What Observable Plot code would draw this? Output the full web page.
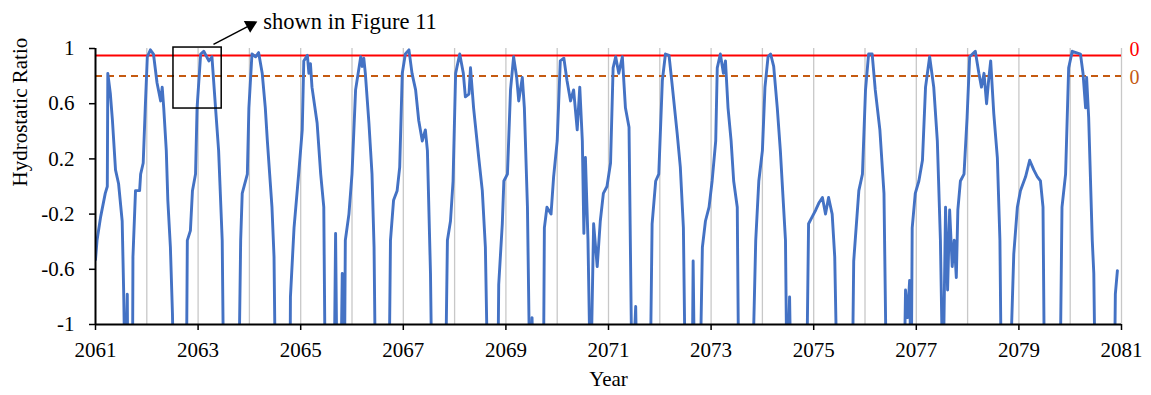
<!DOCTYPE html>
<html>
<head>
<meta charset="utf-8">
<script src="https://cdn.jsdelivr.net/npm/d3@7"></script>
<script src="https://cdn.jsdelivr.net/npm/@observablehq/plot@0.6"></script>
<style>
  html, body { margin: 0; padding: 0; background: #fff; }
  #chart { width: 1151px; height: 395px; }
  #chart svg text { font-family: 'Liberation Serif', 'Times New Roman', serif; }
</style>
</head>
<body>
<div id="chart"></div>
<script>
// ---- data (decimal year, hydrostatic ratio); values below -1 run off the axis ----
const years = [
2061.00,2061.03,2061.10,2061.19,2061.23,2061.24,2061.29,2061.33,2061.39,2061.45,2061.52,2061.55,2061.58,2061.62,2061.63,2061.72,2061.73,2061.78,2061.86,2061.88,2061.93,2061.97,
2062.01,2062.07,2062.13,2062.20,2062.27,2062.30,2062.33,2062.38,2062.41,2062.46,2062.50,2062.53,2062.77,2062.79,2062.85,2062.89,2062.95,2062.98,
2063.05,2063.11,2063.21,2063.27,2063.34,2063.40,2063.47,2063.50,2063.79,2063.83,2063.86,2063.96,2063.99,
2064.05,2064.12,2064.18,2064.25,2064.31,2064.35,2064.44,2064.48,2064.51,2064.79,2064.80,2064.87,2064.96,
2065.03,2065.06,2065.13,2065.16,2065.19,2065.22,2065.32,2065.39,2065.45,2065.48,2065.65,2065.68,2065.71,2065.78,2065.81,2065.83,2065.85,2065.87,2065.94,
2066.00,2066.07,2066.17,2066.20,2066.23,2066.26,2066.33,2066.39,2066.43,2066.46,2066.72,2066.75,2066.81,2066.88,2066.93,2066.98,
2067.04,2067.11,2067.17,2067.24,2067.30,2067.37,2067.43,2067.47,2067.53,2067.56,2067.82,2067.86,2067.92,2067.97,
2068.02,2068.10,2068.17,2068.21,2068.28,2068.31,2068.37,2068.47,2068.54,2068.60,2068.65,2068.84,2068.86,2068.93,2068.96,
2069.03,2069.09,2069.15,2069.21,2069.25,2069.32,2069.36,2069.42,2069.47,2069.51,2069.54,2069.73,2069.75,2069.80,2069.88,2069.93,
2070.00,2070.06,2070.13,2070.19,2070.26,2070.32,2070.39,2070.44,2070.49,2070.52,2070.55,2070.60,2070.65,2070.71,2070.78,2070.84,2070.90,2070.97,
2071.04,2071.09,2071.14,2071.20,2071.27,2071.33,2071.40,2071.46,2071.53,2071.56,2071.81,2071.85,2071.92,2071.98,
2072.05,2072.11,2072.18,2072.24,2072.34,2072.40,2072.46,2072.50,2072.63,2072.65,2072.68,2072.78,2072.83,2072.89,2072.96,
2073.02,2073.09,2073.12,2073.18,2073.24,2073.28,2073.33,2073.39,2073.44,2073.51,2073.54,2073.80,2073.87,2073.93,
2074.00,2074.05,2074.11,2074.16,2074.22,2074.29,2074.35,2074.45,2074.48,2074.53,2074.56,2074.86,2074.90,2074.97,
2075.04,2075.10,2075.17,2075.23,2075.29,2075.36,2075.41,2075.46,2075.75,2075.78,2075.88,2075.95,
2076.01,2076.07,2076.14,2076.20,2076.29,2076.37,2076.42,2076.76,2076.79,2076.83,2076.87,2076.90,2076.92,2076.98,
2077.05,2077.12,2077.18,2077.26,2077.34,2077.41,2077.47,2077.52,2077.57,2077.61,2077.65,2077.70,2077.74,2077.78,2077.81,2077.86,2077.93,2077.99,
2078.04,2078.15,2078.22,2078.27,2078.32,2078.37,2078.41,2078.45,2078.51,2078.58,2078.63,2078.66,2078.84,2078.86,2078.90,2078.97,
2079.03,2079.13,2079.21,2079.29,2079.36,2079.42,2079.47,2079.50,2079.80,2079.84,2079.91,2079.97,
2080.04,2080.20,2080.25,2080.30,2080.32,2080.36,2080.43,2080.46,2080.49,2080.86,2080.88,2080.92
];
const ratio = [
-0.53,-0.39,-0.22,-0.05,0.00,0.82,0.67,0.48,0.12,0.02,-0.25,-0.78,-1.5,-0.78,-1.5,-1.5,-0.51,-0.03,-0.03,0.09,0.17,0.57,
0.94,0.99,0.96,0.75,0.62,0.72,0.57,0.26,-0.10,-0.44,-0.92,-1.5,-1.5,-0.39,-0.32,-0.03,0.09,0.57,
0.96,0.98,0.91,0.94,0.57,0.26,-0.39,-1.5,-1.5,-0.39,-0.05,0.09,0.57,
0.96,0.94,0.97,0.82,0.57,0.33,-0.15,-0.51,-1.5,-1.5,-0.80,-0.30,0.09,
0.41,0.91,0.95,0.82,0.89,0.72,0.46,0.09,-0.15,-1.5,-1.5,-0.34,-1.5,-1.5,-0.63,-1.5,-1.5,-0.39,-0.20,
0.09,0.70,0.94,0.87,0.93,0.82,0.46,0.09,-0.44,-1.5,-1.5,-0.39,-0.10,-0.03,0.14,0.82,
0.96,0.99,0.82,0.70,0.48,0.33,0.41,0.26,-0.63,-1.5,-1.5,-0.39,-0.25,0.04,
0.82,0.96,0.82,0.65,0.67,0.86,0.57,0.21,-0.03,-0.44,-1.5,-1.5,-0.71,-0.27,0.04,
0.09,0.70,0.94,0.79,0.62,0.79,0.57,-0.15,-1.5,-0.95,-1.5,-1.5,-0.30,-0.15,-0.20,0.07,
0.33,0.91,0.93,0.77,0.62,0.70,0.41,0.72,0.33,-0.34,0.21,-0.39,-1.5,-0.27,-0.58,-0.25,-0.05,0.00,
0.17,0.86,0.94,0.82,0.94,0.57,0.43,-1.5,-0.87,-1.5,-1.5,-0.27,0.04,0.09,
0.77,0.96,0.95,0.74,0.38,0.14,-0.30,-1.5,-1.5,-0.54,-1.5,-1.5,-0.44,-0.25,-0.15,
0.04,0.33,0.86,0.96,0.82,0.91,0.57,0.33,0.04,-0.15,-1.5,-1.5,-0.39,0.04,
0.26,0.72,0.94,0.96,0.87,0.57,0.26,-0.39,-1.5,-0.80,-1.5,-1.5,-0.27,-0.22,
-0.17,-0.12,-0.08,-0.20,-0.08,-0.20,-0.51,-1.5,-1.5,-0.54,-0.03,0.09,
0.70,0.96,0.96,0.70,0.41,-0.05,-1.5,-1.5,-0.75,-0.95,-0.68,-1.5,-0.30,-0.05,
0.04,0.19,0.72,0.94,0.72,0.33,-0.39,-1.5,-0.15,-0.75,-0.17,-0.58,-0.39,-0.66,-0.17,0.04,0.09,0.50,
0.94,0.98,0.82,0.72,0.82,0.60,0.77,0.91,0.53,0.21,-0.39,-1.5,-1.5,-0.98,-0.49,-0.15,
-0.03,0.07,0.19,0.12,0.07,0.04,-0.15,-1.5,-1.5,-0.15,0.09,0.86,
0.98,0.96,0.82,0.57,0.79,0.50,-0.39,-0.63,-1.5,-1.5,-0.78,-0.61
];

// axis ticks and labels
const xTickYears = [2061, 2063, 2065, 2067, 2069, 2071, 2073, 2075, 2077, 2079, 2081];
const gridYears = [2062,2063,2064,2065,2066,2067,2068,2069,2070,2071,2072,2073,2074,2075,2076,2077,2078,2079,2080,2081];
const yTicks = [-1, -0.6, -0.2, 0.2, 0.6, 1];
const xLabel = "Year";
const yLabel = "Hydrostatic Ratio";

// threshold lines and their end labels
const thresholdValues = [0.95, 0.8];
const thresholdLabels = ["0", "0"];
const thresholdColors = ["#FF0000", "#C55A11"];

// annotation: box, arrow and note
const boxYears = [2062.52, 2063.46];
const boxRatio = [0.565, 1.007];
const arrowYears = [2063.30, 2064.02];
const arrowRatio = [1.03, 1.17];
const noteYear = 2064.27;
const noteRatio = 1.19;
const noteText = "shown in Figure 11";

const series = years.map((t, i) => ({t, r: ratio[i]}));
const thresholds = thresholdValues.map((v, i) => ({v, label: thresholdLabels[i], color: thresholdColors[i]}));

const font = "'Liberation Serif', 'Times New Roman', serif";

const chart = Plot.plot({
  width: 1151,
  height: 395,
  marginLeft: 95,
  marginRight: 30,
  marginTop: 48,
  marginBottom: 71,
  style: {fontFamily: font, fontSize: "21px", background: "#fff", color: "#000", overflow: "visible"},
  x: {domain: [2061, 2081], label: null},
  y: {domain: [-1, 1], label: null},
  marks: [
    Plot.ruleX(gridYears, {stroke: "#c8c8c8", strokeWidth: 1.3}),
    Plot.ruleY([thresholds[0]], {y: "v", stroke: "color", strokeWidth: 2}),
    Plot.ruleY([thresholds[1]], {y: "v", stroke: "color", strokeWidth: 2, strokeDasharray: "7,5"}),
    Plot.line(series, {x: "t", y: "r", stroke: "#4472C4", strokeWidth: 2.9, strokeLinejoin: "round", clip: true}),
    Plot.ruleX([2061], {stroke: "#000", strokeWidth: 2}),
    Plot.ruleY([-1], {stroke: "#000", strokeWidth: 2}),
    Plot.axisX({ticks: xTickYears, tickFormat: d => String(d), tickSize: 6, tickPadding: 12, fontSize: 21, fontFamily: font, fill: "#000", stroke: "#000", strokeWidth: 1.5, label: null}),
    Plot.axisY({ticks: yTicks, tickFormat: d => String(d), tickSize: 6, tickPadding: 15, fontSize: 21, fontFamily: font, fill: "#000", stroke: "#000", strokeWidth: 1.5, label: null}),
    Plot.text(thresholds.slice(0, 1), {x: 2081, y: "v", text: "label", fill: "color", textAnchor: "start", dx: 8, dy: -6, fontSize: 20, fontFamily: font}),
    Plot.text(thresholds.slice(1), {x: 2081, y: "v", text: "label", fill: "color", textAnchor: "start", dx: 8, dy: 1, fontSize: 20, fontFamily: font}),
    Plot.text([yLabel], {frameAnchor: "left", rotate: -90, dx: -75, fontSize: 21, fontFamily: font}),
    Plot.text([xLabel], {frameAnchor: "bottom", dy: 61, fontSize: 21, fontFamily: font}),
    Plot.rect([{x1: boxYears[0], x2: boxYears[1], y1: boxRatio[0], y2: boxRatio[1]}], {x1: "x1", x2: "x2", y1: "y1", y2: "y2", fill: "none", stroke: "#000", strokeWidth: 1.5}),
    Plot.link([{x1: arrowYears[0], y1: arrowRatio[0], x2: arrowYears[1], y2: arrowRatio[1]}], {x1: "x1", y1: "y1", x2: "x2", y2: "y2", stroke: "#000", strokeWidth: 1.5}),
    Plot.dot([{x: arrowYears[1], y: arrowRatio[1]}], {x: "x", y: "y", symbol: "triangle", r: 5, fill: "#000", stroke: "none", rotate: 62}),
    Plot.text([noteText], {x: noteYear, y: noteRatio, textAnchor: "start", fontSize: 22.5, fontFamily: font})
  ]
});
document.getElementById("chart").appendChild(chart);
</script>
</body>
</html>
